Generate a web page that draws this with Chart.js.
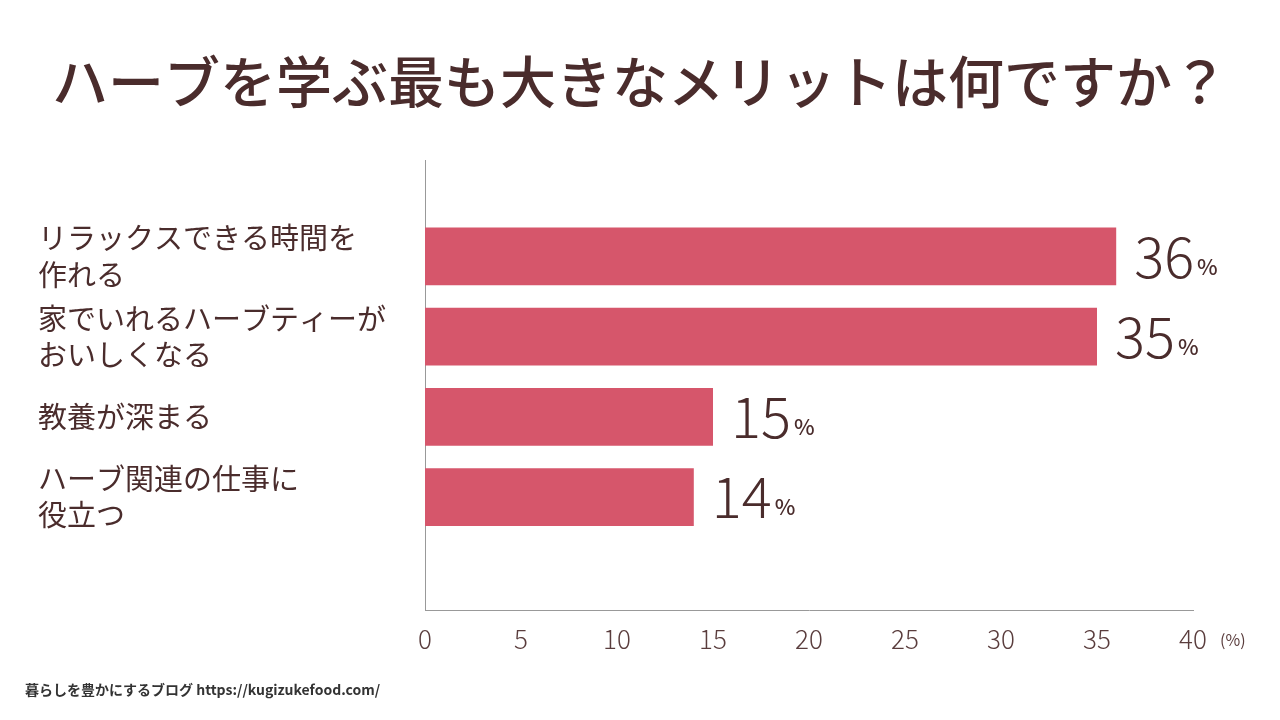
<!DOCTYPE html>
<html><head><meta charset="utf-8">
<script src="https://cdn.jsdelivr.net/npm/chart.js@4"></script>
<style>html,body{margin:0;padding:0;background:#fff}#w{width:1280px;height:720px}</style>
</head><body><div id="w"><canvas id="c"></canvas></div>
<script>
const titleText = 'ハーブを学ぶ最も大きなメリットは何ですか？';
const categories = [['リラックスできる時間を','作れる'],['家でいれるハーブティーが','おいしくなる'],['教養が深まる'],['ハーブ関連の仕事に','役立つ']];
const values = [36, 35, 15, 14];
const xTicks = [0,5,10,15,20,25,30,35,40];
const footer = '暮らしを豊かにするブログ https://kugizukefood.com/';
const FONT = '"Noto Sans CJK JP","Noto Sans",sans-serif';
const BROWN = '#4a2c2c';
const deco = {
  id:'deco',
  afterDraw(ch){
    const c = ch.ctx; c.save();
    c.fillStyle = BROWN; c.textBaseline='middle'; c.textAlign='center';
    c.font = '500 56px '+FONT; c.fillText(titleText, 640, 82);
    const xs = ch.scales.x, ys = ch.scales.y;
    values.forEach((v,i)=>{
      const x = xs.getPixelForValue(v)+18, y = ys.getPixelForValue(i);
      c.textAlign='left'; c.font='300 56px '+FONT;
      const s = String(v); c.fillText(s, x, y);
      const w = c.measureText(s).width;
      c.font='500 22px '+FONT; c.fillText('%', x+w+3, y+10);
    });
    c.font='400 16px '+FONT; c.fillStyle='#5a3d3d'; c.textAlign='left';
    c.fillText('(%)', 1220, xs.top+30);
    c.font='600 14px '+FONT; c.fillStyle='#333';
    c.fillText(footer, 25, 690);
    c.restore();
  }
};
new Chart(document.getElementById('c'),{
  type:'bar',
  data:{datasets:[{data:values.map((v,i)=>({x:v,y:i})),backgroundColor:'#d6566b',barPercentage:1,categoryPercentage:0.72}]},
  options:{
    indexAxis:'y',responsive:true,maintainAspectRatio:false,animation:false,
    layout:{padding:{left:38,right:87,top:160,bottom:0}},
    plugins:{legend:{display:false},tooltip:{enabled:false}},
    scales:{
      x:{type:'linear',min:0,max:40,afterBuildTicks(a){a.ticks=xTicks.map(v=>({value:v}));},
        afterFit(a){a.height=110;},
        grid:{display:false,drawTicks:false},border:{color:'#999',width:1},
        ticks:{color:'#5a3d3d',padding:14,font:{family:FONT,size:26,weight:'300'}}},
      y:{type:'linear',reverse:true,min:-0.5,max:3.706,
        afterBuildTicks(a){a.ticks=categories.map((_,i)=>({value:i}));},
        afterFit(a){a.width=387;},
        grid:{display:false,drawTicks:false},border:{color:'#999',width:1},
        ticks:{callback:(v)=>categories[v],color:BROWN,crossAlign:'far',padding:0,font:{family:FONT,size:29,weight:'400',lineHeight:1.25}}}
    }
  },
  plugins:[deco]
});
</script></body></html>
